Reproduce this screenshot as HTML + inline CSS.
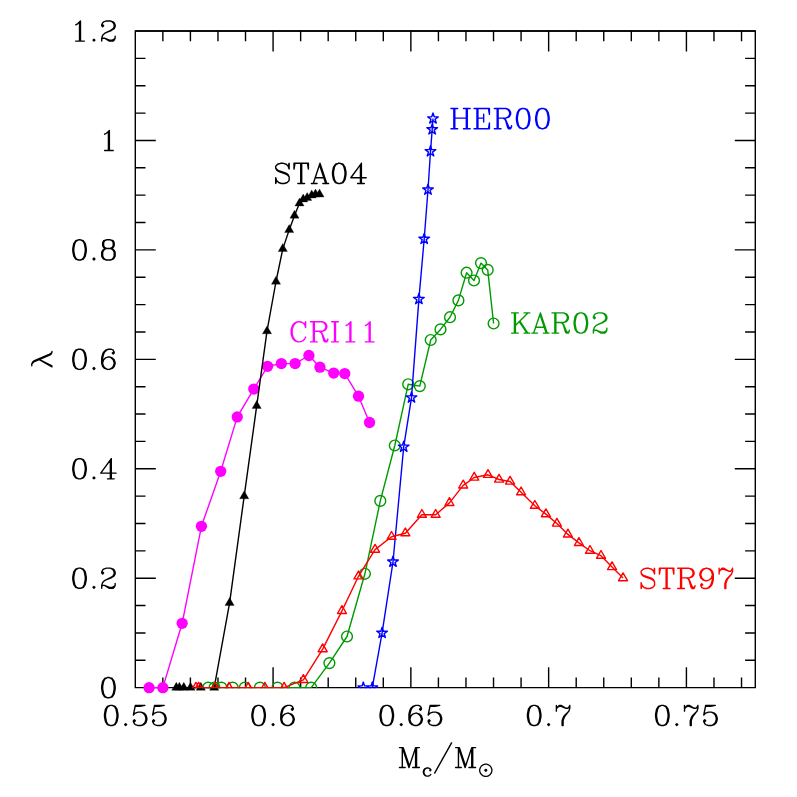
<!DOCTYPE html>
<html><head><meta charset="utf-8"><title>lambda vs Mc</title>
<style>html,body{margin:0;padding:0;background:#fff;font-family:"Liberation Serif",serif}svg{display:block}</style>
</head><body>
<svg width="797" height="797" viewBox="0 0 797 797">
<defs>
<clipPath id="cp"><rect x="134.7" y="30.4" width="621.2" height="657.85"/></clipPath>
<path id="g0" d="M-1 -12 -4 -11 -6 -8 -7 -3 -7 0 -6 5 -4 8 -1 9 1 9 4 8 6 5 7 0 7 -3 6 -8 4 -11 1 -12 -1 -12M-1 -12 -3 -11 -4 -10 -5 -8 -6 -3 -6 0 -5 5 -4 7 -3 8 -1 9M1 9 3 8 4 7 5 5 6 0 6 -3 5 -8 4 -10 3 -11 1 -12"/>
<path id="g1" d="M-4 -8 -2 -9 1 -12 1 9M0 -11 0 9M-4 9 5 9"/>
<path id="g2" d="M-6 -8 -5 -7 -6 -6 -7 -7 -7 -8 -6 -10 -5 -11 -2 -12 2 -12 5 -11 6 -10 7 -8 7 -6 6 -4 3 -2 -2 0 -4 1 -6 3 -7 6 -7 9M2 -12 4 -11 5 -10 6 -8 6 -6 5 -4 2 -2 -2 0M-7 7 -6 6 -4 6 1 8 4 8 6 7 7 6M-4 6 1 9 5 9 6 8 7 6 7 4"/>
<path id="g3" d="M-6 -8 -5 -7 -6 -6 -7 -7 -7 -8 -6 -10 -5 -11 -2 -12 2 -12 5 -11 6 -9 6 -6 5 -4 2 -3 -1 -3M2 -12 4 -11 5 -9 5 -6 4 -4 2 -3M2 -3 4 -2 6 0 7 2 7 5 6 7 5 8 2 9 -2 9 -5 8 -6 7 -7 5 -7 4 -6 3 -5 4 -6 5M5 -1 6 2 6 5 5 7 4 8 2 9"/>
<path id="g4" d="M2 -10 2 9M3 -12 3 9M3 -12 -8 3 8 3M-1 9 6 9"/>
<path id="g5" d="M-5 -12 -7 -2M-7 -2 -5 -4 -2 -5 1 -5 4 -4 6 -2 7 1 7 3 6 6 4 8 1 9 -2 9 -5 8 -6 7 -7 5 -7 4 -6 3 -5 4 -6 5M1 -5 3 -4 5 -2 6 1 6 3 5 6 3 8 1 9M-5 -12 5 -12M-5 -11 0 -11 5 -12"/>
<path id="g6" d="M5 -9 4 -8 5 -7 6 -8 6 -9 5 -11 3 -12 0 -12 -3 -11 -5 -9 -6 -7 -7 -3 -7 3 -6 6 -4 8 -1 9 1 9 4 8 6 6 7 3 7 2 6 -1 4 -3 1 -4 0 -4 -3 -3 -5 -1 -6 2M0 -12 -2 -11 -4 -9 -5 -7 -6 -3 -6 3 -5 6 -3 8 -1 9M1 9 3 8 5 6 6 3 6 2 5 -1 3 -3 1 -4"/>
<path id="g7" d="M-7 -12 -7 -6M-7 -8 -6 -10 -4 -12 -2 -12 3 -9 5 -9 6 -10 7 -12M-6 -10 -4 -11 -2 -11 3 -9M7 -12 7 -9 6 -6 2 -1 1 1 0 4 0 9M6 -6 1 -1 0 1 -1 4 -1 9"/>
<path id="g8" d="M-2 -12 -5 -11 -6 -9 -6 -6 -5 -4 -2 -3 2 -3 5 -4 6 -6 6 -9 5 -11 2 -12 -2 -12M-2 -12 -4 -11 -5 -9 -5 -6 -4 -4 -2 -3M2 -3 4 -4 5 -6 5 -9 4 -11 2 -12M-2 -3 -5 -2 -6 -1 -7 1 -7 5 -6 7 -5 8 -2 9 2 9 5 8 6 7 7 5 7 1 6 -1 5 -2 2 -3M-2 -3 -4 -2 -5 -1 -6 1 -6 5 -5 7 -4 8 -2 9M2 9 4 8 5 7 6 5 6 1 5 -1 4 -2 2 -3"/>
<path id="g9" d="M6 -5 5 -2 3 0 0 1 -1 1 -4 0 -6 -2 -7 -5 -7 -6 -6 -9 -4 -11 -1 -12 1 -12 4 -11 6 -9 7 -6 7 0 6 4 5 6 3 8 0 9 -3 9 -5 8 -6 6 -6 5 -5 4 -4 5 -5 6M-1 1 -3 0 -5 -2 -6 -5 -6 -6 -5 -9 -3 -11 -1 -12M1 -12 3 -11 5 -9 6 -6 6 0 5 4 4 6 2 8 0 9"/>
<path id="g10" d="M0 7 -1 8 0 9 1 8 0 7"/>
<path id="g11" d="M6 -9 7 -12 7 -6 6 -9 4 -11 1 -12 -2 -12 -5 -11 -7 -9 -7 -7 -6 -5 -5 -4 -3 -3 3 -1 5 0 7 2M-7 -7 -5 -5 -3 -4 3 -2 5 -1 6 0 7 2 7 6 5 8 2 9 -1 9 -4 8 -6 6 -7 3 -7 9 -6 6"/>
<path id="g12" d="M0 -12 0 9M1 -12 1 9M-6 -12 -7 -6 -7 -12 8 -12 8 -6 7 -12M-3 9 4 9"/>
<path id="g13" d="M0 -12 -7 9M0 -12 7 9M0 -9 6 9M-5 3 4 3M-9 9 -3 9M3 9 9 9"/>
<path id="g14" d="M6 -9 7 -6 7 -12 6 -9 4 -11 1 -12 -1 -12 -4 -11 -6 -9 -7 -7 -8 -4 -8 1 -7 4 -6 6 -4 8 -1 9 1 9 4 8 6 6 7 4M-1 -12 -3 -11 -5 -9 -6 -7 -7 -4 -7 1 -6 4 -5 6 -3 8 -1 9"/>
<path id="g15" d="M-6 -12 -6 9M-5 -12 -5 9M-9 -12 3 -12 6 -11 7 -10 8 -8 8 -6 7 -4 6 -3 3 -2 -5 -2M3 -12 5 -11 6 -10 7 -8 7 -6 6 -4 5 -3 3 -2M-9 9 -2 9M0 -2 2 -1 3 0 6 7 7 8 8 8 9 7M2 -1 3 1 5 8 6 9 8 9 9 7 9 6"/>
<path id="g16" d="M0 -12 0 9M1 -12 1 9M-3 -12 4 -12M-3 9 4 9"/>
<path id="g17" d="M-7 -12 -7 9M-6 -12 -6 9M6 -12 6 9M7 -12 7 9M-10 -12 -3 -12M3 -12 10 -12M-6 -2 6 -2M-10 9 -3 9M3 9 10 9"/>
<path id="g18" d="M-6 -12 -6 9M-5 -12 -5 9M1 -6 1 2M-9 -12 7 -12 7 -6 6 -12M-5 -2 1 -2M-9 9 7 9 7 3 6 9"/>
<path id="g19" d="M-7 -12 -7 9M-6 -12 -6 9M7 -12 -6 1M-1 -3 7 9M-2 -3 6 9M-10 -12 -3 -12M3 -12 9 -12M-10 9 -3 9M3 9 9 9"/>
<path id="g20" d="M-7 -12 -7 9M-6 -12 0 6M-7 -12 0 9M7 -12 0 9M7 -12 7 9M8 -12 8 9M-10 -12 -6 -12M7 -12 11 -12M-10 9 -4 9M4 9 11 9"/>
<path id="g21" d="M5 -2 4 -1 5 0 6 -1 6 -2 4 -4 2 -5 -1 -5 -4 -4 -6 -2 -7 1 -7 3 -6 6 -4 8 -1 9 1 9 4 8 6 6M-1 -5 -3 -4 -5 -2 -6 1 -6 3 -5 6 -3 8 -1 9"/>
<path id="g22" d="M9 -16 -9 16"/>
<path id="g23" d="M-9 0 9 0"/>
<path id="g24" d="M-7 -12 -5 -12 -3 -11 -2 -10 -1 -8 5 6 6 8 7 9M-5 -12 -3 -10 -2 -8 4 6 5 8 7 9 8 9M0 -5 -8 9M0 -5 -7 9"/>
<path id="g25" d="M-1 -12 -4 -11 -7 -9 -9 -6 -10 -3 -10 0 -9 3 -7 6 -4 8 -1 9 2 9 5 8 8 6 10 3 11 0 11 -3 10 -6 8 -9 5 -11 2 -12 -1 -12M0 -3 -1 -2 -1 -1 0 0 1 0 2 -1 2 -2 1 -3 0 -3M0 -2 0 -1 1 -1 1 -2 0 -2"/>
</defs>
<rect width="797" height="797" fill="#fff"/>
<path d="M135.3 31H755.3V687.65H135.3Z" fill="none" stroke="#000" stroke-width="1.4" stroke-linejoin="miter"/>
<path d="M135.3 31H755.3" fill="none" stroke="#000" stroke-width="1.4"/>
<path d="M162.86 687.65v-10.2M162.86 31v10.2M190.41 687.65v-10.2M190.41 31v10.2M217.97 687.65v-10.2M217.97 31v10.2M245.52 687.65v-10.2M245.52 31v10.2M273.08 687.65v-20.5M273.08 31v20.5M300.64 687.65v-10.2M300.64 31v10.2M328.19 687.65v-10.2M328.19 31v10.2M355.75 687.65v-10.2M355.75 31v10.2M383.3 687.65v-10.2M383.3 31v10.2M410.86 687.65v-20.5M410.86 31v20.5M438.42 687.65v-10.2M438.42 31v10.2M465.97 687.65v-10.2M465.97 31v10.2M493.53 687.65v-10.2M493.53 31v10.2M521.08 687.65v-10.2M521.08 31v10.2M548.64 687.65v-20.5M548.64 31v20.5M576.2 687.65v-10.2M576.2 31v10.2M603.75 687.65v-10.2M603.75 31v10.2M631.31 687.65v-10.2M631.31 31v10.2M658.86 687.65v-10.2M658.86 31v10.2M686.42 687.65v-20.5M686.42 31v20.5M713.98 687.65v-10.2M713.98 31v10.2M741.53 687.65v-10.2M741.53 31v10.2M135.3 660.29h10.2M755.3 660.29h-10.2M135.3 632.93h10.2M755.3 632.93h-10.2M135.3 605.57h10.2M755.3 605.57h-10.2M135.3 578.21h20.5M755.3 578.21h-20.5M135.3 550.85h10.2M755.3 550.85h-10.2M135.3 523.49h10.2M755.3 523.49h-10.2M135.3 496.13h10.2M755.3 496.13h-10.2M135.3 468.77h20.5M755.3 468.77h-20.5M135.3 441.41h10.2M755.3 441.41h-10.2M135.3 414.05h10.2M755.3 414.05h-10.2M135.3 386.69h10.2M755.3 386.69h-10.2M135.3 359.33h20.5M755.3 359.33h-20.5M135.3 331.97h10.2M755.3 331.97h-10.2M135.3 304.61h10.2M755.3 304.61h-10.2M135.3 277.25h10.2M755.3 277.25h-10.2M135.3 249.89h20.5M755.3 249.89h-20.5M135.3 222.53h10.2M755.3 222.53h-10.2M135.3 195.17h10.2M755.3 195.17h-10.2M135.3 167.81h10.2M755.3 167.81h-10.2M135.3 140.45h20.5M755.3 140.45h-20.5M135.3 113.09h10.2M755.3 113.09h-10.2M135.3 85.73h10.2M755.3 85.73h-10.2M135.3 58.37h10.2M755.3 58.37h-10.2" fill="none" stroke="#000" stroke-width="1.4"/>
<path d="M149.08 687.65 162.86 687.65 182.15 623.3 201.43 526.3 220.72 471.3 237.26 416.9 253.79 389.1 267.57 366.3 281.35 363.6 295.12 363.6 308.9 355.5 319.93 367.2 333.7 373.1 344.73 373.6 358.5 396.2 369.53 422.5" fill="none" stroke="#f0f" stroke-width="1.4" stroke-linejoin="round"/>
<g fill="#f0f"><circle cx="149.08" cy="687.65" r="5.65"/><circle cx="162.86" cy="687.65" r="5.65"/><circle cx="182.15" cy="623.3" r="5.65"/><circle cx="201.43" cy="526.3" r="5.65"/><circle cx="220.72" cy="471.3" r="5.65"/><circle cx="237.26" cy="416.9" r="5.65"/><circle cx="253.79" cy="389.1" r="5.65"/><circle cx="267.57" cy="366.3" r="5.65"/><circle cx="281.35" cy="363.6" r="5.65"/><circle cx="295.12" cy="363.6" r="5.65"/><circle cx="308.9" cy="355.5" r="5.65"/><circle cx="319.93" cy="367.2" r="5.65"/><circle cx="333.7" cy="373.1" r="5.65"/><circle cx="344.73" cy="373.6" r="5.65"/><circle cx="358.5" cy="396.2" r="5.65"/><circle cx="369.53" cy="422.5" r="5.65"/></g>
<path d="M176.3 687.65 179.4 687.65 183.8 687.65 190.5 687.65 200.8 687.65 214.2 687.65 229.6 602.9 244.2 496.1 256.7 405.8 267 331.2 276 281.5 282.8 248.9 289.2 229.9 294.5 215.5 299.5 203.3 303.2 199.3 307.2 197.8 311.7 195.3 315.5 194.3 319.5 194.3" fill="none" stroke="#000" stroke-width="1.4" stroke-linejoin="round"/>
<path fill="#000" stroke="#000" stroke-width="0.3" stroke-linejoin="miter" d="M176.3 682.35 180.89 690.3 171.71 690.3ZM179.4 682.35 183.99 690.3 174.81 690.3ZM183.8 682.35 188.39 690.3 179.21 690.3ZM190.5 682.35 195.09 690.3 185.91 690.3ZM200.8 682.35 205.39 690.3 196.21 690.3ZM214.2 682.35 218.79 690.3 209.61 690.3ZM229.6 597.6 234.19 605.55 225.01 605.55ZM244.2 490.8 248.79 498.75 239.61 498.75ZM256.7 400.5 261.29 408.45 252.11 408.45ZM267 325.9 271.59 333.85 262.41 333.85ZM276 276.2 280.59 284.15 271.41 284.15ZM282.8 243.6 287.39 251.55 278.21 251.55ZM289.2 224.6 293.79 232.55 284.61 232.55ZM294.5 210.2 299.09 218.15 289.91 218.15ZM299.5 198 304.09 205.95 294.91 205.95ZM303.2 194 307.79 201.95 298.61 201.95ZM307.2 192.5 311.79 200.45 302.61 200.45ZM311.7 190 316.29 197.95 307.11 197.95ZM315.5 189 320.09 196.95 310.91 196.95ZM319.5 189 324.09 196.95 314.91 196.95Z"/>
<g clip-path="url(#cp)">
<path d="M208.2 687.65 214.5 687.65 221.4 687.65 232.7 687.65 244.8 687.65 259.9 687.65 277.5 687.65 294.5 687.65 311.2 687.65 329.4 663.1 347 636.5 364.9 573.8 380.3 500.9 394.8 445.5 408.2 384.3 419.8 386.1 430.7 340 440.5 329.4 450 317.2 458.4 300.4 466.6 272.7 474 280.5 481 263.1 487.7 269.9 493.6 323.5" fill="none" stroke="#009a00" stroke-width="1.4" stroke-linejoin="round"/>
<g fill="none" stroke="#009a00" stroke-width="1.4"><circle cx="208.2" cy="687.65" r="5.4"/><circle cx="214.5" cy="687.65" r="5.4"/><circle cx="221.4" cy="687.65" r="5.4"/><circle cx="232.7" cy="687.65" r="5.4"/><circle cx="244.8" cy="687.65" r="5.4"/><circle cx="259.9" cy="687.65" r="5.4"/><circle cx="277.5" cy="687.65" r="5.4"/><circle cx="294.5" cy="687.65" r="5.4"/><circle cx="311.2" cy="687.65" r="5.4"/><circle cx="329.4" cy="663.1" r="5.4"/><circle cx="347" cy="636.5" r="5.4"/><circle cx="364.9" cy="573.8" r="5.4"/><circle cx="380.3" cy="500.9" r="5.4"/><circle cx="394.8" cy="445.5" r="5.4"/><circle cx="408.2" cy="384.3" r="5.4"/><circle cx="419.8" cy="386.1" r="5.4"/><circle cx="430.7" cy="340" r="5.4"/><circle cx="440.5" cy="329.4" r="5.4"/><circle cx="450" cy="317.2" r="5.4"/><circle cx="458.4" cy="300.4" r="5.4"/><circle cx="466.6" cy="272.7" r="5.4"/><circle cx="474" cy="280.5" r="5.4"/><circle cx="481" cy="263.1" r="5.4"/><circle cx="487.7" cy="269.9" r="5.4"/><circle cx="493.6" cy="323.5" r="5.4"/></g>
<path d="M363.3 687.65 372.3 687.65 382.1 632.93 393 561.79 403.7 446.88 411.5 397.63 418.9 299.14 424.2 238.95 428 189.7 430.5 151.39 432.2 129.51 433 118.56" fill="none" stroke="#00f" stroke-width="1.4" stroke-linejoin="round"/>
<path fill="none" stroke="#00f" stroke-width="1.4" stroke-linejoin="round" d="M363.3 682.05 364.56 685.92 368.63 685.92 365.33 688.31 366.59 692.18 363.3 689.79 360.01 692.18 361.27 688.31 357.97 685.92 362.04 685.92ZM372.3 682.05 373.56 685.92 377.63 685.92 374.33 688.31 375.59 692.18 372.3 689.79 369.01 692.18 370.27 688.31 366.97 685.92 371.04 685.92ZM382.1 627.33 383.36 631.2 387.43 631.2 384.13 633.59 385.39 637.46 382.1 635.07 378.81 637.46 380.07 633.59 376.77 631.2 380.84 631.2ZM393 556.19 394.26 560.06 398.33 560.06 395.03 562.46 396.29 566.32 393 563.93 389.71 566.32 390.97 562.46 387.67 560.06 391.74 560.06ZM403.7 441.28 404.96 445.15 409.03 445.15 405.73 447.54 406.99 451.41 403.7 449.02 400.41 451.41 401.67 447.54 398.37 445.15 402.44 445.15ZM411.5 392.03 412.76 395.9 416.83 395.9 413.53 398.3 414.79 402.16 411.5 399.77 408.21 402.16 409.47 398.3 406.17 395.9 410.24 395.9ZM418.9 293.54 420.16 297.41 424.23 297.41 420.93 299.8 422.19 303.67 418.9 301.28 415.61 303.67 416.87 299.8 413.57 297.41 417.64 297.41ZM424.2 233.35 425.46 237.22 429.53 237.22 426.23 239.61 427.49 243.48 424.2 241.09 420.91 243.48 422.17 239.61 418.87 237.22 422.94 237.22ZM428 184.1 429.26 187.97 433.33 187.97 430.03 190.36 431.29 194.23 428 191.84 424.71 194.23 425.97 190.36 422.67 187.97 426.74 187.97ZM430.5 145.79 431.76 149.66 435.83 149.66 432.53 152.06 433.79 155.92 430.5 153.53 427.21 155.92 428.47 152.06 425.17 149.66 429.24 149.66ZM432.2 123.91 433.46 127.78 437.53 127.78 434.23 130.17 435.49 134.04 432.2 131.65 428.91 134.04 430.17 130.17 426.87 127.78 430.94 127.78ZM433 112.96 434.26 116.83 438.33 116.83 435.03 119.22 436.29 123.09 433 120.7 429.71 123.09 430.97 119.22 427.67 116.83 431.74 116.83Z"/>
<path d="M195.92 687.65 198.68 687.65 215.21 687.65 228.99 687.65 248.28 687.65 264.81 687.65 284.1 687.65 303.39 679.9 322.68 649.1 341.97 610.9 358.5 576.3 375.04 549.6 391.57 536.7 405.35 533.2 421.88 514.7 435.66 514.7 449.44 502.9 463.22 485.4 474.24 477.5 488.02 474.8 499.04 479.5 510.06 481.5 521.08 492.2 534.86 505.7 545.88 514.1 556.91 523.5 567.93 534.4 578.95 542.9 589.97 550.7 601 555.7 612.02 567 623.04 578.1" fill="none" stroke="#f00" stroke-width="1.4" stroke-linejoin="round"/>
<path fill="none" stroke="#f00" stroke-width="1.4" stroke-linejoin="round" d="M195.92 682.45 200.43 690.25 191.42 690.25ZM198.68 682.45 203.18 690.25 194.18 690.25ZM215.21 682.45 219.72 690.25 210.71 690.25ZM228.99 682.45 233.49 690.25 224.49 690.25ZM248.28 682.45 252.78 690.25 243.78 690.25ZM264.81 682.45 269.32 690.25 260.31 690.25ZM284.1 682.45 288.61 690.25 279.6 690.25ZM303.39 674.7 307.89 682.5 298.89 682.5ZM322.68 643.9 327.18 651.7 318.18 651.7ZM341.97 605.7 346.47 613.5 337.47 613.5ZM358.5 571.1 363.01 578.9 354 578.9ZM375.04 544.4 379.54 552.2 370.53 552.2ZM391.57 531.5 396.07 539.3 387.07 539.3ZM405.35 528 409.85 535.8 400.85 535.8ZM421.88 509.5 426.39 517.3 417.38 517.3ZM435.66 509.5 440.16 517.3 431.16 517.3ZM449.44 497.7 453.94 505.5 444.94 505.5ZM463.22 480.2 467.72 488 458.71 488ZM474.24 472.3 478.74 480.1 469.74 480.1ZM488.02 469.6 492.52 477.4 483.51 477.4ZM499.04 474.3 503.54 482.1 494.54 482.1ZM510.06 476.3 514.56 484.1 505.56 484.1ZM521.08 487 525.59 494.8 516.58 494.8ZM534.86 500.5 539.37 508.3 530.36 508.3ZM545.88 508.9 550.39 516.7 541.38 516.7ZM556.91 518.3 561.41 526.1 552.4 526.1ZM567.93 529.2 572.43 537 563.43 537ZM578.95 537.7 583.45 545.5 574.45 545.5ZM589.97 545.5 594.48 553.3 585.47 553.3ZM601 550.5 605.5 558.3 596.49 558.3ZM612.02 561.8 616.52 569.6 607.52 569.6ZM623.04 572.9 627.54 580.7 618.54 580.7Z"/>
</g>
<g fill="none" stroke="#000" stroke-width="1.45" stroke-linejoin="round" stroke-linecap="round"><use href="#g1" transform="translate(79.53 32.45) scale(0.96)"/><use href="#g10" transform="translate(93.97 32.45) scale(0.96)"/><use href="#g2" transform="translate(108.42 32.45) scale(0.96)"/></g>
<g fill="none" stroke="#000" stroke-width="1.45" stroke-linejoin="round" stroke-linecap="round"><use href="#g1" transform="translate(108.42 141.89) scale(0.96)"/></g>
<g fill="none" stroke="#000" stroke-width="1.45" stroke-linejoin="round" stroke-linecap="round"><use href="#g0" transform="translate(79.53 251.33) scale(0.96)"/><use href="#g10" transform="translate(93.97 251.33) scale(0.96)"/><use href="#g8" transform="translate(108.42 251.33) scale(0.96)"/></g>
<g fill="none" stroke="#000" stroke-width="1.45" stroke-linejoin="round" stroke-linecap="round"><use href="#g0" transform="translate(79.53 360.77) scale(0.96)"/><use href="#g10" transform="translate(93.97 360.77) scale(0.96)"/><use href="#g6" transform="translate(108.42 360.77) scale(0.96)"/></g>
<g fill="none" stroke="#000" stroke-width="1.45" stroke-linejoin="round" stroke-linecap="round"><use href="#g0" transform="translate(79.53 470.21) scale(0.96)"/><use href="#g10" transform="translate(93.97 470.21) scale(0.96)"/><use href="#g4" transform="translate(108.42 470.21) scale(0.96)"/></g>
<g fill="none" stroke="#000" stroke-width="1.45" stroke-linejoin="round" stroke-linecap="round"><use href="#g0" transform="translate(79.53 579.65) scale(0.96)"/><use href="#g10" transform="translate(93.97 579.65) scale(0.96)"/><use href="#g2" transform="translate(108.42 579.65) scale(0.96)"/></g>
<g fill="none" stroke="#000" stroke-width="1.45" stroke-linejoin="round" stroke-linecap="round"><use href="#g0" transform="translate(108.42 689.09) scale(0.96)"/></g>
<g fill="none" stroke="#000" stroke-width="1.45" stroke-linejoin="round" stroke-linecap="round"><use href="#g0" transform="translate(111.23 716.93) scale(0.96)"/><use href="#g10" transform="translate(125.67 716.93) scale(0.96)"/><use href="#g5" transform="translate(140.12 716.93) scale(0.96)"/><use href="#g5" transform="translate(159.38 716.93) scale(0.96)"/></g>
<g fill="none" stroke="#000" stroke-width="1.45" stroke-linejoin="round" stroke-linecap="round"><use href="#g0" transform="translate(258.63 716.93) scale(0.96)"/><use href="#g10" transform="translate(273.08 716.93) scale(0.96)"/><use href="#g6" transform="translate(287.52 716.93) scale(0.96)"/></g>
<g fill="none" stroke="#000" stroke-width="1.45" stroke-linejoin="round" stroke-linecap="round"><use href="#g0" transform="translate(386.78 716.93) scale(0.96)"/><use href="#g10" transform="translate(401.23 716.93) scale(0.96)"/><use href="#g6" transform="translate(415.67 716.93) scale(0.96)"/><use href="#g5" transform="translate(434.93 716.93) scale(0.96)"/></g>
<g fill="none" stroke="#000" stroke-width="1.45" stroke-linejoin="round" stroke-linecap="round"><use href="#g0" transform="translate(534.19 716.93) scale(0.96)"/><use href="#g10" transform="translate(548.64 716.93) scale(0.96)"/><use href="#g7" transform="translate(563.08 716.93) scale(0.96)"/></g>
<g fill="none" stroke="#000" stroke-width="1.45" stroke-linejoin="round" stroke-linecap="round"><use href="#g0" transform="translate(662.34 716.93) scale(0.96)"/><use href="#g10" transform="translate(676.79 716.93) scale(0.96)"/><use href="#g7" transform="translate(691.23 716.93) scale(0.96)"/><use href="#g5" transform="translate(710.49 716.93) scale(0.96)"/></g>
<g fill="none" stroke="#000" stroke-width="1.45" stroke-linejoin="round" stroke-linecap="round"><use href="#g11" transform="translate(282.43 174.84) scale(0.96)"/><use href="#g12" transform="translate(300.73 174.84) scale(0.96)"/><use href="#g13" transform="translate(319.99 174.84) scale(0.96)"/><use href="#g0" transform="translate(339.25 174.84) scale(0.96)"/><use href="#g4" transform="translate(358.51 174.84) scale(0.96)"/></g>
<g fill="none" stroke="#f0f" stroke-width="1.45" stroke-linejoin="round" stroke-linecap="round"><use href="#g14" transform="translate(298.89 333.24) scale(0.96)"/><use href="#g15" transform="translate(319.12 333.24) scale(0.96)"/><use href="#g16" transform="translate(334.52 333.24) scale(0.96)"/><use href="#g1" transform="translate(349.93 333.24) scale(0.96)"/><use href="#g1" transform="translate(369.19 333.24) scale(0.96)"/></g>
<g fill="none" stroke="#00f" stroke-width="1.45" stroke-linejoin="round" stroke-linecap="round"><use href="#g17" transform="translate(460.56 120.04) scale(0.96)"/><use href="#g18" transform="translate(482.71 120.04) scale(0.96)"/><use href="#g15" transform="translate(502.93 120.04) scale(0.96)"/><use href="#g0" transform="translate(523.15 120.04) scale(0.96)"/><use href="#g0" transform="translate(542.41 120.04) scale(0.96)"/></g>
<g fill="none" stroke="#009a00" stroke-width="1.45" stroke-linejoin="round" stroke-linecap="round"><use href="#g19" transform="translate(521.16 324.44) scale(0.96)"/><use href="#g13" transform="translate(540.42 324.44) scale(0.96)"/><use href="#g15" transform="translate(560.64 324.44) scale(0.96)"/><use href="#g0" transform="translate(580.86 324.44) scale(0.96)"/><use href="#g2" transform="translate(600.12 324.44) scale(0.96)"/></g>
<g fill="none" stroke="#f00" stroke-width="1.45" stroke-linejoin="round" stroke-linecap="round"><use href="#g11" transform="translate(647.83 579.84) scale(0.96)"/><use href="#g12" transform="translate(666.13 579.84) scale(0.96)"/><use href="#g15" transform="translate(686.35 579.84) scale(0.96)"/><use href="#g9" transform="translate(706.57 579.84) scale(0.96)"/><use href="#g7" transform="translate(725.83 579.84) scale(0.96)"/></g>
<g fill="none" stroke="#000" stroke-width="1.47" stroke-linejoin="round" stroke-linecap="round"><use href="#g20" transform="translate(408.95 759) scale(0.95)"/></g>
<g fill="none" stroke="#000" stroke-width="2.24" stroke-linejoin="round" stroke-linecap="round"><use href="#g21" transform="translate(427.4 770.88) scale(0.58)"/></g>
<g fill="none" stroke="#000" stroke-width="1.49" stroke-linejoin="round" stroke-linecap="round"><use href="#g22" transform="translate(443.1 758) scale(0.94)"/></g>
<g fill="none" stroke="#000" stroke-width="1.47" stroke-linejoin="round" stroke-linecap="round"><use href="#g20" transform="translate(465.1 759) scale(0.95)"/></g>
<g fill="none" stroke="#000" stroke-width="2.24"><use href="#g25" transform="translate(485.5 771.17) scale(0.58)"/></g>
<g fill="none" stroke="#000" stroke-width="1.45" stroke-linecap="round" stroke-linejoin="round"><use href="#g24" transform="translate(43.3 359.1) rotate(-90) scale(0.96)"/></g>
</svg>
</body></html>
